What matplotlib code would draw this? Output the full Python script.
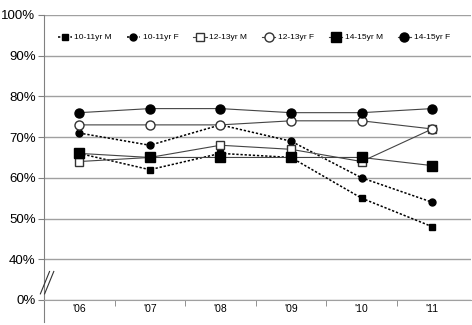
import matplotlib

matplotlib.use("Agg")
import matplotlib.pyplot as plt  # noqa: E402
import numpy as np  # noqa: E402

YEARS = ["'06", "'07", "'08", "'09", "'10", "'11"]

# share (%) per group and year
M_10_11 = [66, 62, 66, 65, 55, 48]
F_10_11 = [71, 68, 73, 69, 60, 54]
M_12_13 = [64, 65, 68, 67, 64, 72]
F_12_13 = [73, 73, 73, 74, 74, 72]
M_14_15 = [66, 65, 65, 65, 65, 63]
F_14_15 = [76, 77, 77, 76, 76, 77]

Y_TICKS = [40, 50, 60, 70, 80, 90, 100]
BREAK_POS = 30  # where "0%" sits on the broken axis

plt.rcParams["font.family"] = ["Liberation Sans", "DejaVu Sans"]

fig = plt.figure(figsize=(4.72, 3.25), dpi=100)
ax = fig.add_axes([0.093, 0.077, 0.905, 0.877])
x = np.arange(len(YEARS))

dot = dict(color="black", lw=1.1, ls=(0, (1.5, 1.2)))
sol = dict(color="#444444", lw=0.8, ls="-")
ax.plot(x, M_10_11, marker="s", ms=4.5, mfc="black", mec="black",
        label="10-11yr M", zorder=3, **dot)
ax.plot(x, F_10_11, marker="o", ms=5, mfc="black", mec="black",
        label="10-11yr F", zorder=3, **dot)
ax.plot(x, M_12_13, marker="s", ms=6, mfc="white", mec="#333333",
        label="12-13yr M", zorder=3, **sol)
ax.plot(x, F_12_13, marker="o", ms=6.5, mfc="white", mec="#333333",
        label="12-13yr F", zorder=3, **sol)
ax.plot(x, M_14_15, marker="s", ms=7, mfc="black", mec="black",
        label="14-15yr M", zorder=4, **sol)
ax.plot(x, F_14_15, marker="o", ms=6.5, mfc="black", mec="black",
        label="14-15yr F", zorder=3, **sol)

ax.set_xlim(-0.5, len(YEARS) - 0.45)
ax.set_ylim(BREAK_POS, 100)
ax.set_yticks([BREAK_POS] + Y_TICKS)
ax.set_yticklabels(["0%"] + [f"{v}%" for v in Y_TICKS], fontsize=9.5)
for v in [BREAK_POS] + Y_TICKS:
    ax.axhline(v, color="#a0a0a0", lw=1.0, zorder=1)

ax.set_xticks(x)
ax.set_xticklabels(YEARS, fontsize=7.5)
ax.set_xticks(np.arange(len(YEARS)) - 0.5, minor=True)
ax.tick_params(axis="x", which="major", length=0, pad=3)
ax.tick_params(axis="x", which="minor", length=4, color="#808080")
ax.tick_params(axis="y", length=4, color="#808080", pad=2)

for side in ["top", "right"]:
    ax.spines[side].set_visible(False)
ax.spines["bottom"].set_color("#a0a0a0")
ax.spines["left"].set_color("#808080")
ax.spines["left"].set_bounds(BREAK_POS - 5.5, 100)

# axis break marks
for dx in (0.0, 0.06):
    ax.plot([-0.55 + dx, -0.42 + dx], [BREAK_POS + 1.5, BREAK_POS + 7],
            color="#333333", lw=0.8, clip_on=False, zorder=5)

leg = ax.legend(loc="upper left", bbox_to_anchor=(0.02, 0.955), ncol=6,
                frameon=False, fontsize=6, handlelength=1.6,
                handletextpad=0.3, columnspacing=1.8, borderaxespad=0.3)

fig.savefig("out.png", dpi=100)
